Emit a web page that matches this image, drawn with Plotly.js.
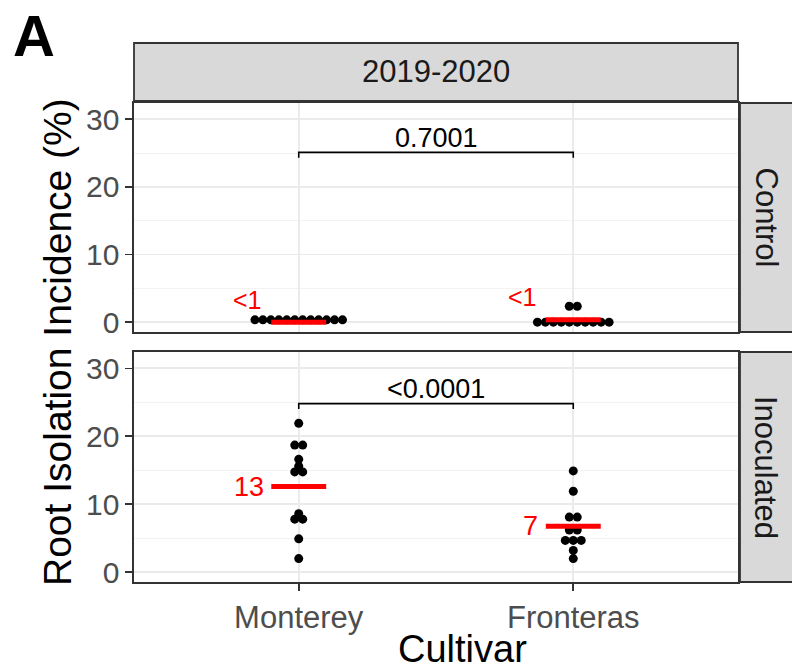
<!DOCTYPE html>
<html>
<head>
<meta charset="utf-8">
<script src="https://cdn.plot.ly/plotly-3.0.1.min.js"></script>
<style>html,body{margin:0;padding:0;background:#fff}#chart{width:792px;height:672px}</style>
</head>
<body>
<div id="chart"></div>
<script>
// ---- data ----
const cultivars = ["Monterey", "Fronteras"];
const facetTitle = "2019-2020";
const treatments = ["Control", "Inoculated"];

// individual root isolation incidence values (%)
const controlMonterey = [0.35,0.35,0.35,0.35,0.35,0.35,0.35,0.35,0.35,0.35,0.35,0.35];
const controlFronteras = [0,0,0,0,0,0,0,0,0,0,2.35,2.35];
const inocMonterey = [21.9,18.7,18.7,16.6,15.6,14.75,14.75,8.6,7.8,7.8,4.9,2.0];
const inocFronteras = [14.9,11.9,8.1,8.1,6.2,6.2,4.67,4.67,4.67,3.2,2.0];

// summary (mean) bars and their labels
const controlMeans = [0, 0.37];
const inocMeans = [12.6, 6.75];
const controlLabels = ["<1", "<1"];
const inocLabels = ["13", "7"];

// p-values
const pValues = ["0.7001", "<0.0001"];
const bracketY = [25.1, 24.8];

const yTicks = [0, 10, 20, 30];
const yMinor = [5, 15, 25];

// ---- geometry helpers (pixel layout of the figure) ----
const W = 792, H = 672;
const px = v => v / W, py = v => 1 - v / H;
const panelX = [134, 738];
const ctrlY = [103, 332];
const inocY = [352, 582];
const dotStep = 0.029;   // horizontal spacing of stacked dots (x units)

function swarm(values, center) {
  // group equal values into horizontal rows, centred on the category
  const rows = {};
  values.forEach(v => { (rows[v] = rows[v] || []).push(v); });
  const xs = [], ys = [];
  Object.keys(rows).forEach(k => {
    const r = rows[k], n = r.length;
    r.forEach((v, i) => { xs.push(center + (i - (n - 1) / 2) * dotStep); ys.push(v); });
  });
  return {x: xs, y: ys};
}

const traces = [];
function addPanel(groups, means, xa, ya) {
  groups.forEach((vals, gi) => {
    const s = swarm(vals, gi + 1);
    traces.push({type: "scatter", mode: "markers", x: s.x, y: s.y, xaxis: xa, yaxis: ya,
      marker: {color: "#000", size: 9}, hoverinfo: "skip", cliponaxis: false});
  });
  means.forEach((m, gi) => {
    traces.push({type: "scatter", mode: "lines", x: [gi + 1 - 0.1, gi + 1 + 0.1], y: [m, m],
      xaxis: xa, yaxis: ya, line: {color: "#ff0000", width: 5}, hoverinfo: "skip"});
  });
}
addPanel([controlMonterey, controlFronteras], controlMeans, "x2", "y");
addPanel([inocMonterey, inocFronteras], inocMeans, "x", "y2");

// significance brackets
[["x2", "y"], ["x", "y2"]].forEach((ax, i) => {
  const b = bracketY[i], tip = 0.8;
  traces.push({type: "scatter", mode: "lines", x: [1, 1, 2, 2], y: [b - tip, b, b, b - tip],
    xaxis: ax[0], yaxis: ax[1], line: {color: "#000", width: 1.6}, hoverinfo: "skip"});
});

const font = "Liberation Sans, Arial, sans-serif";
const gridColor = "#ebebeb";
function xAxis(anchor, showLabels) {
  return {domain: [px(panelX[0]), px(panelX[1])], anchor: anchor, range: [0.4, 2.6],
    tickvals: [1, 2], ticktext: cultivars, showticklabels: showLabels,
    ticks: showLabels ? "outside" : "", ticklen: 7, tickwidth: 1.6, tickcolor: "#333",
    tickfont: {size: 31, color: "#4d4d4d", family: font},
    showgrid: true, gridcolor: gridColor, gridwidth: 1.8, zeroline: false,
    showline: true, mirror: true, linecolor: "#333", linewidth: 1.6, fixedrange: true};
}
function yAxis(dom, anchor) {
  return {domain: [py(dom[1]), py(dom[0])], anchor: anchor, range: [-1.45, 32.4],
    tickvals: yTicks, ticktext: yTicks.map(String),
    ticks: "outside", ticklen: 7, tickwidth: 1.6, tickcolor: "#333",
    tickfont: {size: 30, color: "#4d4d4d", family: font},
    showgrid: true, gridcolor: gridColor, gridwidth: 1.8, zeroline: false,
    minor: {tickvals: yMinor, showgrid: true, gridcolor: "#f3f3f3", gridwidth: 1, ticks: ""},
    showline: true, mirror: true, linecolor: "#333", linewidth: 1.6, fixedrange: true};
}

const annotations = [
  {text: "A", xref: "paper", yref: "paper", x: px(34), y: py(35), showarrow: false,
   font: {size: 58, color: "#000", family: font, weight: "bold"}, xanchor: "center", yanchor: "middle"},
  {text: facetTitle, xref: "paper", yref: "paper", x: px(436), y: py(72), showarrow: false,
   font: {size: 31, color: "#1a1a1a", family: font}, xanchor: "center", yanchor: "middle"},
  {text: treatments[0], xref: "paper", yref: "paper", x: px(766), y: py((ctrlY[0] + ctrlY[1]) / 2),
   showarrow: false, textangle: 90, font: {size: 31, color: "#1a1a1a", family: font},
   xanchor: "center", yanchor: "middle"},
  {text: treatments[1], xref: "paper", yref: "paper", x: px(766), y: py((inocY[0] + inocY[1]) / 2),
   showarrow: false, textangle: 90, font: {size: 31, color: "#1a1a1a", family: font},
   xanchor: "center", yanchor: "middle"},
  {text: "Root Isolation Incidence (%)", xref: "paper", yref: "paper", x: px(57), y: py(342),
   showarrow: false, textangle: -90, font: {size: 39, color: "#000", family: font},
   xanchor: "center", yanchor: "middle"},
  {text: "Cultivar", xref: "paper", yref: "paper", x: px(463), y: py(649), showarrow: false,
   font: {size: 38, color: "#000", family: font}, xanchor: "center", yanchor: "middle"}
];
// p-values
[["x2", "y"], ["x", "y2"]].forEach((ax, i) => {
  annotations.push({text: pValues[i], xref: ax[0], yref: ax[1], x: 1.5, y: bracketY[i] + 2.2,
    showarrow: false, font: {size: 27, color: "#000", family: font}, xanchor: "center", yanchor: "middle"});
});
// mean labels
controlLabels.forEach((t, i) => annotations.push({text: t, xref: "x2", yref: "y", x: i + 1 - 0.125,
  y: controlMeans[i] + 3.3, showarrow: false, xanchor: "right", yanchor: "middle",
  font: {size: 25, color: "#ff0000", family: font}}));
inocLabels.forEach((t, i) => annotations.push({text: t, xref: "x", yref: "y2", x: i + 1 - 0.12,
  y: inocMeans[i], showarrow: false, xanchor: "right", yanchor: "middle",
  font: {size: 27, color: "#ff0000", family: font}}));

const strip = (x0, x1, y0, y1) => ({type: "rect", xref: "paper", yref: "paper",
  x0: px(x0), x1: px(x1), y0: py(y1), y1: py(y0), fillcolor: "#d9d9d9",
  line: {color: "#333", width: 1.8}, layer: "below"});

const layout = {
  width: W, height: H, margin: {l: 0, r: 0, t: 0, b: 0},
  paper_bgcolor: "#fff", plot_bgcolor: "#fff", showlegend: false,
  font: {family: font},
  xaxis: xAxis("y2", true),
  xaxis2: xAxis("y", false),
  yaxis: yAxis(ctrlY, "x2"),
  yaxis2: yAxis(inocY, "x"),
  shapes: [strip(134, 738, 43, 101), strip(740, 800, ctrlY[0], ctrlY[1]), strip(740, 800, inocY[0], inocY[1])],
  annotations: annotations
};

Plotly.newPlot("chart", traces, layout, {staticPlot: true, displayModeBar: false});
</script>
</body>
</html>
